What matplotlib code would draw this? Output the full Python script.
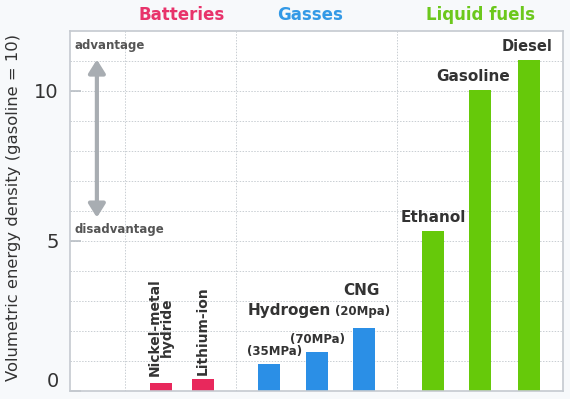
import matplotlib
matplotlib.use("Agg")
import matplotlib.pyplot as plt

# ---- data ----
categories = ["Nickel-metal\nhydride", "Lithium-ion", "Hydrogen (35MPa)", "Hydrogen (70MPa)",
              "CNG (20Mpa)", "Ethanol", "Gasoline", "Diesel"]
values = [0.27, 0.39, 0.89, 1.29, 2.09, 5.33, 10.03, 11.03]
groups = ["Batteries", "Batteries", "Gasses", "Gasses", "Gasses",
          "Liquid fuels", "Liquid fuels", "Liquid fuels"]
group_names = ["Batteries", "Gasses", "Liquid fuels"]
yticks = [0, 5, 10]
ylabel = "Volumetric energy density (gasoline = 10)"

# ---- layout / style ----
positions = [1.896, 2.77, 4.146, 5.146, 6.125, 7.5625, 8.55, 9.5625]
separators = [1.146, 3.458, 6.8125]
group_title_x = [2.33, 5.0, 8.55]
bar_colors = {"Batteries": "#E8285C", "Gasses": "#2B8FE6", "Liquid fuels": "#66C90A"}
title_colors = {"Batteries": "#E8336B", "Gasses": "#3399E6", "Liquid fuels": "#6CC81C"}
text_col = "#333333"
bg = "#F7F9FB"

fig = plt.figure(figsize=(5.7, 3.99), dpi=100, facecolor=bg)
ax = fig.add_axes([70/570, 8/399, 493/570, 360/399])
ax.set_facecolor("white")
ax.set_xlim(0, 10.27)
ax.set_ylim(0, 12)

# grid
for y in range(1, 12):
    ax.axhline(y, color="#C9CED3", lw=0.7, ls=(0, (1.5, 1.5)), zorder=0)
for sx in separators:
    ax.axvline(sx, color="#C9CED3", lw=0.7, ls=(0, (1.5, 1.5)), zorder=0)

for s in ax.spines.values():
    s.set_color("#C5CAD0")
    s.set_linewidth(1.2)

ax.bar(positions, values, width=0.46, color=[bar_colors[g] for g in groups], zorder=2)

ax.set_xticks([])
ax.set_yticks(yticks)
ax.set_yticklabels([str(t) for t in yticks], fontsize=14, color=text_col)
ax.get_yticklabels()[0].set_va("bottom")
ax.tick_params(axis="y", direction="in", length=8, color="#B8BEC4", width=1.2, pad=8)
ax.set_ylabel(ylabel, fontsize=11.8, color=text_col, va="center")
ax.yaxis.set_label_coords(-0.115, 0.51)

# group titles
for name, gx in zip(group_names, group_title_x):
    ax.text(gx, 12.55, name, ha="center", va="center", fontsize=12, fontweight="bold",
            color=title_colors[name], clip_on=False)

# bar labels
lab = dict(color=text_col, fontweight="bold")
ax.text(positions[0], values[0] + 0.22, categories[0], rotation=90, ha="center", va="bottom",
        fontsize=10, linespacing=0.85, **lab)
ax.text(positions[1], values[1] + 0.15, categories[1], rotation=90, ha="center", va="bottom",
        fontsize=10, **lab)
ax.text(positions[2] - 0.46, values[2] + 0.2, "(35MPa)", ha="left", va="bottom",
        fontsize=8.5, **lab)
ax.text(positions[3], values[3] + 0.2, "(70MPa)", ha="center", va="bottom",
        fontsize=8.5, **lab)
ax.text(positions[4] - 0.68, 2.45, "Hydrogen", ha="right", va="bottom",
        fontsize=11, **lab)
ax.text(positions[4] - 0.6, 2.45, "(20Mpa)", ha="left", va="bottom",
        fontsize=8.5, **lab)
ax.text(positions[4] - 0.05, 3.1, "CNG", ha="center", va="bottom", fontsize=11, **lab)
ax.text(positions[5], values[5] + 0.2, "Ethanol", ha="center", va="bottom",
        fontsize=11, **lab)
ax.text(positions[6] - 0.15, values[6] + 0.2, "Gasoline", ha="center", va="bottom",
        fontsize=11, **lab)
ax.text(positions[7] - 0.05, values[7] + 0.2, "Diesel", ha="center", va="bottom",
        fontsize=10.5, **lab)

# advantage arrow
ax.text(0.1, 11.5, "advantage", ha="left", va="center", fontsize=8.5,
        color="#555555", fontweight="bold")
ax.text(0.1, 5.4, "disadvantage", ha="left", va="center", fontsize=8.5,
        color="#555555", fontweight="bold")
ax.annotate("", xy=(0.56, 11.05), xytext=(0.56, 5.78),
            arrowprops=dict(arrowstyle="<|-|>,head_length=0.8,head_width=0.5",
                            color="#A8ADB2", lw=3, shrinkA=0, shrinkB=0))

fig.savefig("out.png", dpi=100, facecolor=bg)
